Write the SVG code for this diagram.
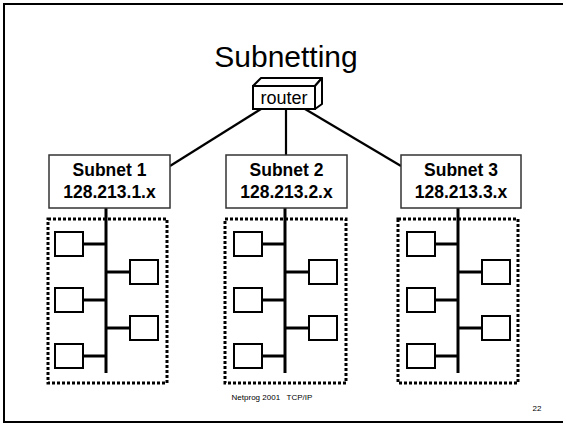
<svg xmlns="http://www.w3.org/2000/svg" width="563" height="424" viewBox="0 0 563 424">
<style>
text{font-family:"Liberation Sans",Arial,sans-serif;fill:#000}
.lbl{font-size:17.5px;font-weight:bold;text-anchor:middle}
.sub{fill:#fff;stroke:#333;stroke-width:1.5}
.dot{fill:none;stroke:#000;stroke-width:3;stroke-dasharray:3 2}
.host{fill:#fff;stroke:#000;stroke-width:2}
.bus{stroke:#000;stroke-width:3}
.tap{stroke:#000;stroke-width:3}
.link{stroke:#000;stroke-width:2.2;fill:none}
</style>
<defs>
<g id="lan">
<line class="bus" x1="0" y1="0" x2="0" y2="165"/>
<line class="tap" x1="-23" y1="36" x2="0" y2="36"/>
<line class="tap" x1="-23" y1="92" x2="0" y2="92"/>
<line class="tap" x1="-23" y1="148" x2="0" y2="148"/>
<line class="tap" x1="0" y1="64" x2="24" y2="64"/>
<line class="tap" x1="0" y1="120" x2="24" y2="120"/>
<rect class="host" x="-51" y="24" width="28" height="24"/>
<rect class="host" x="-51" y="80" width="28" height="24"/>
<rect class="host" x="-51" y="136" width="28" height="24"/>
<rect class="host" x="24" y="52" width="28" height="24"/>
<rect class="host" x="24" y="108" width="28" height="24"/>
</g>
</defs>
<rect x="0" y="0" width="563" height="424" fill="#fff"/>
<rect x="4" y="4" width="580" height="418" fill="none" stroke="#000" stroke-width="2"/>
<text x="286" y="67" font-size="30" text-anchor="middle">Subnetting</text>
<g id="connectors">
<line class="link" x1="261" y1="109" x2="170" y2="166"/>
<line class="link" x1="286" y1="109" x2="286" y2="155"/>
<line class="link" x1="305" y1="109" x2="401" y2="166"/>
</g>
<g id="router">
<polygon points="253,86 261,78 322,78 315,86" fill="#fff" stroke="#000" stroke-width="2" stroke-linejoin="round"/>
<polygon points="315,86 322,78 322,104 315,109" fill="#fff" stroke="#000" stroke-width="2" stroke-linejoin="round"/>
<rect x="253" y="86" width="62" height="23" fill="#fff" stroke="#000" stroke-width="2"/>
<text x="284" y="104" font-size="18" text-anchor="middle">router</text>
</g>
<g id="subnet1">
<rect class="dot" x="48" y="219" width="119" height="164"/>
<use href="#lan" x="106" y="208"/>
<rect class="sub" x="49" y="155" width="121" height="53"/>
<text class="lbl" x="109.5" y="176">Subnet 1</text>
<text class="lbl" x="109.5" y="198">128.213.1.x</text>
</g>
<g id="subnet2">
<rect class="dot" x="225" y="219" width="121" height="164"/>
<use href="#lan" x="285" y="208"/>
<rect class="sub" x="226" y="155" width="121" height="53"/>
<text class="lbl" x="286.5" y="176">Subnet 2</text>
<text class="lbl" x="286.5" y="198">128.213.2.x</text>
</g>
<g id="subnet3">
<rect class="dot" x="398" y="219" width="120" height="164"/>
<use href="#lan" x="458" y="208"/>
<rect class="sub" x="401" y="155" width="120" height="53"/>
<text class="lbl" x="461" y="176">Subnet 3</text>
<text class="lbl" x="461" y="198">128.213.3.x</text>
</g>
<text x="272" y="400" font-size="8" text-anchor="middle" xml:space="preserve">Netprog 2001   TCP/IP</text>
<text x="537" y="411" font-size="8" text-anchor="middle">22</text>
</svg>
